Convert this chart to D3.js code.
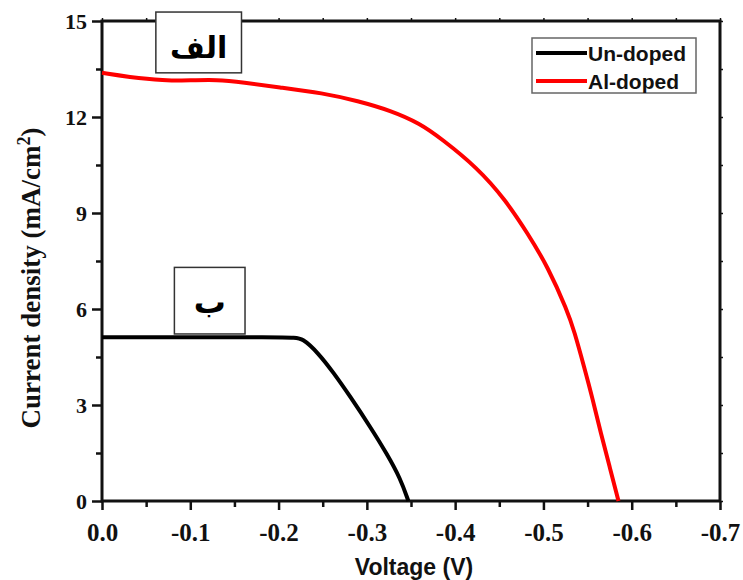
<!DOCTYPE html>
<meta charset="utf-8">
<style>
body { margin: 0; background: #fff; }
.tick text { font-family: "Liberation Serif", "Times New Roman", serif; font-weight: bold; fill: #111; }
.domain { display: none; }
.tick line { stroke: #111; stroke-width: 2.5px; }
</style>
<body>
<svg width="743" height="580" id="chart"></svg>
<script src="https://d3js.org/d3.v7.min.js"></script>
<script>

// voltage (V) / current density (mA/cm2)
var undopedV = [0, -0.215, -0.227, -0.245, -0.262, -0.281, -0.304, -0.323, -0.338, -0.347];
var undopedJ = [5.12, 5.12, 5.1, 4.62, 4.02, 3.27, 2.31, 1.46, 0.7, 0];

var alV = [0, -0.03, -0.07, -0.1, -0.13, -0.16, -0.2, -0.25, -0.29, -0.327, -0.36, -0.384, -0.425, -0.457, -0.482, -0.505, -0.527, -0.535, -0.546, -0.556, -0.565, -0.575, -0.585];
var alJ = [13.38, 13.25, 13.14, 13.14, 13.17, 13.08, 12.93, 12.75, 12.5, 12.2, 11.8, 11.33, 10.42, 9.41, 8.37, 7.32, 5.95, 5.3, 4.2, 3.16, 2.12, 1.07, 0];

var xTicks = [0, -0.1, -0.2, -0.3, -0.4, -0.5, -0.6, -0.7];
var yTicks = [0, 3, 6, 9, 12, 15];
var seriesNames = ["Un-doped", "Al-doped"];
var seriesColors = ["#000000", "#ff0000"];

// arabic panel labels, placed in data units (x0, x1, yTop, yBottom)
var panelText = ["الف", "ب"];
var panelBox = [[-0.061, -0.158, 15.28, 13.38], [-0.082, -0.162, 7.3, 5.22]];

var svg = d3.select("svg"),
    plotL = 102, plotR = 720, plotT = 21, plotB = 501;

var x = d3.scaleLinear().domain([0, -0.7]).range([plotL, plotR]);
var y = d3.scaleLinear().domain([0, 15]).range([plotB, plotT]);

var minorX = d3.range(0, 7).map(function(i) { return -0.05 - i * 0.1; });
var minorY = d3.range(0, 5).map(function(i) { return 1.5 + i * 3; });

// bottom axis
svg.append("g").attr("transform", "translate(0," + plotB + ")")
    .call(d3.axisBottom(x).tickValues(xTicks).tickSize(9).tickPadding(13)
        .tickFormat(function(d) { return d === 0 ? "0.0" : d.toFixed(1); }))
    .selectAll("text").style("font-size", "25px");
svg.append("g").attr("transform", "translate(0," + plotB + ")")
    .call(d3.axisBottom(x).tickValues(minorX).tickSize(6).tickFormat(""));

// left axis
svg.append("g").attr("transform", "translate(" + plotL + ",0)")
    .call(d3.axisLeft(y).tickValues(yTicks).tickSize(10).tickPadding(5))
    .selectAll("text").style("font-size", "22px").attr("dy", "0.36em");
svg.append("g").attr("transform", "translate(" + plotL + ",0)")
    .call(d3.axisLeft(y).tickValues(minorY).tickSize(6).tickFormat(""));

// small ticks on top and right
svg.append("g").attr("transform", "translate(0," + plotT + ")")
    .call(d3.axisTop(x).tickValues(xTicks.concat(minorX)).tickSize(3).tickFormat(""))
    .selectAll("line").style("stroke-width", "1.5px");
svg.append("g").attr("transform", "translate(" + plotR + ",0)")
    .call(d3.axisRight(y).tickValues(yTicks.concat(minorY)).tickSize(3).tickFormat(""))
    .selectAll("line").style("stroke-width", "1.5px");

// frame
svg.append("rect")
    .attr("x", plotL).attr("y", plotT)
    .attr("width", plotR - plotL).attr("height", plotB - plotT)
    .attr("fill", "none").attr("stroke", "#111").attr("stroke-width", 3);

// b-spline smooths out the read-off noise
var line = d3.line()
    .x(function(d) { return x(d[0]); })
    .y(function(d) { return y(d[1]); })
    .curve(d3.curveBasis);

var series = [d3.zip(undopedV, undopedJ), d3.zip(alV, alJ)];

svg.selectAll(".curve")
    .data(series)
    .enter().append("path")
    .attr("class", "curve")
    .attr("d", line)
    .attr("fill", "none")
    .attr("stroke", function(d, i) { return seriesColors[i]; })
    .attr("stroke-width", 4)
    .attr("stroke-linejoin", "round");

// panel labels
panelBox.forEach(function(b, i) {
    var x0 = x(b[0]), x1 = x(b[1]), y0 = y(b[2]), y1 = y(b[3]);
    svg.append("rect")
        .attr("x", x0).attr("y", y0)
        .attr("width", x1 - x0).attr("height", y1 - y0)
        .attr("fill", "#fff").attr("stroke", "#333").attr("stroke-width", 1.5);
    svg.append("text")
        .attr("x", (x0 + x1) / 2)
        .attr("y", y0 + 46)
        .attr("text-anchor", "middle")
        .attr("font-family", "DejaVu Sans, Noto Sans, sans-serif")
        .attr("font-weight", "bold")
        .attr("font-size", i === 0 ? "30px" : "32px")
        .attr("direction", "rtl")
        .text(panelText[i]);
});

// legend
var lg = svg.append("g").attr("transform", "translate(532,38)");
lg.append("rect").attr("width", 164).attr("height", 55)
    .attr("fill", "#fff").attr("stroke", "#666").attr("stroke-width", 1.5);
seriesNames.forEach(function(name, i) {
    lg.append("line")
        .attr("x1", 4).attr("x2", 55)
        .attr("y1", 15 + i * 28).attr("y2", 15 + i * 28)
        .attr("stroke", seriesColors[i]).attr("stroke-width", 4);
    lg.append("text")
        .attr("x", 56).attr("y", 23 + i * 28)
        .attr("font-family", "Liberation Sans, Arial, sans-serif")
        .attr("font-weight", "bold")
        .attr("font-size", "21px")
        .attr("fill", "#111")
        .text(name);
});

// axis titles
svg.append("text")
    .attr("x", 414).attr("y", 575)
    .attr("text-anchor", "middle")
    .attr("font-family", "Liberation Sans, Arial, sans-serif")
    .attr("font-weight", "bold")
    .attr("font-size", "23px")
    .attr("fill", "#111")
    .text("Voltage (V)");

var yt = svg.append("text")
    .attr("transform", "translate(40,278) rotate(-90)")
    .attr("text-anchor", "middle")
    .attr("font-family", "Liberation Serif, Times New Roman, serif")
    .attr("font-weight", "bold")
    .attr("font-size", "27px")
    .attr("fill", "#111");
yt.append("tspan").text("Current density (mA/cm");
yt.append("tspan").attr("dy", "-10").attr("font-size", "18px").text("2");
yt.append("tspan").attr("dy", "10").text(")");

</script>
</body>
